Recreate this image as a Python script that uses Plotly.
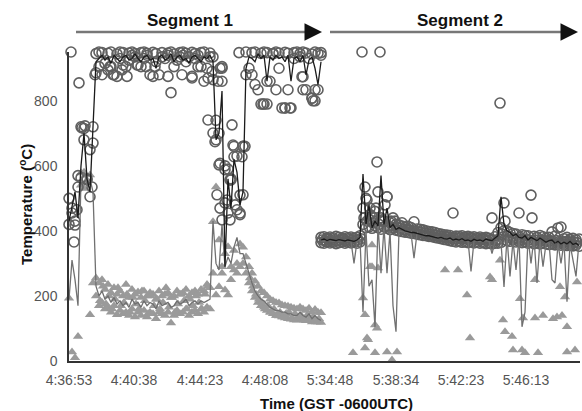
import plotly.graph_objects as go

# ---------------- data ----------------
# x = sample index along the recording (tick labels give clock time)
tick_vals = [0, 65, 131, 196, 261, 327, 392, 457]
tick_text = ["4:36:53", "4:40:38", "4:44:23", "4:48:08", "5:34:48", "5:38:34", "5:42:23", "5:46:13"]

seg1_idx = list(range(0, 253, 3))
seg2_idx = list(range(252, 511, 3))
seg2_idx_mid = list(range(253, 511, 3))
seg1_idx_mid = list(range(31, 142, 3)) + list(range(181, 253, 3))

# Segment 1 averaged temperatures
hot1_avg = [430, 470, 520, 440, 600, 700, 560, 520, 700, 920,
            930, 940, 925, 935, 915, 940, 930, 920, 935, 940,
            925, 930, 945, 930, 920, 935, 940, 925, 930, 900,
            935, 940, 925, 930, 945, 920, 935, 940, 925, 930,
            915, 935, 940, 930, 920, 935, 930, 940,
            920, 680, 700, 830, 290, 560, 470, 620, 580, 480, 520, 900,
            935, 930, 920, 945, 930, 940, 860, 935, 925, 940,
            930, 935, 920, 940, 860, 930, 935, 920, 940, 880,
            925, 935, 900, 850, 920]
cold1_avg = [190, 310, 250, 170, 560, 580, 540, 560, 520, 230,
             200, 215, 190, 200, 180, 195, 175, 185, 170, 180,
             165, 190, 175, 180, 165, 185, 170, 180, 175, 160,
             185, 170, 175, 180, 165, 170, 185, 175, 180, 190,
             170, 180, 185, 175, 185, 180, 185, 190,
             430, 300, 280, 420, 290, 320, 300, 350, 380, 330, 330, 300,
             265, 240, 215, 200, 190, 185, 175, 165, 160, 155,
             155, 150, 150, 145, 145, 140, 140, 150, 140, 135,
             145, 130, 140, 130, 125]

# Segment 1 individual readings (circles = hot sensors)
hot1_a = [500, 455, 430, 570, 720, 715, 560, 505, 720,
          945, 950, 948, 952, 946, 950, 955, 944, 950, 948,
          952, 947, 950, 945, 953, 948, 950, 946, 952, 949,
          945, 951, 948, 953, 947, 950, 944, 952, 948, 950,
          946, 953, 949, 945, 951, 948, 950, 952, 947,
          935, 740, 700, 860, 600, 590, 560, 660, 630, 510, 660, 950,
          952, 948, 950, 955, 946, 950, 948, 953, 945, 950,
          947, 952, 949, 946, 951, 948, 953, 945, 950, 947,
          952, 944, 950, 946, 948]
hot1_b = [420, 470, 418, 535, 563, 680, 557, 650, 670,
          886, 905, 880, 915, 895, 905, 880, 875, 930, 910,
          905, 925, 940, 935, 910, 905, 930, 940, 880, 875,
          920, 880, 935, 930, 940, 825, 905, 925, 935, 940,
          920, 935, 870, 930, 940, 905, 860, 900, 935,
          865, 680, 603, 900, 486, 455, 557, 628, 465, 455, 511, 880,
          900, 880, 850, 834, 790, 790, 860, 860, 945, 834,
          900, 778, 778, 834, 778, 930, 950, 935, 874, 834,
          930, 808, 800, 834, 940]
hot1_x_extra = [2, 10, 26, 5, 8, 13, 16, 23, 139, 144, 148, 156, 161, 163, 174, 173,
                151, 158, 166, 171, 153, 161, 146, 151, 164, 176, 143, 149, 153, 176,
                170, 44, 41, 53, 58, 68, 77, 86, 99, 113, 123, 129, 139, 151,
                194, 198, 216, 221, 233, 243, 244, 246, 234]
hot1_y_extra = [950, 855, 880, 366, 465, 717, 723, 535, 741, 701, 511, 588, 557, 726, 660, 628,
                470, 495, 480, 450, 434, 434, 674, 608, 664, 660, 890, 860, 905, 955,
                948, 880, 905, 895, 875, 910, 905, 905, 875, 880, 875, 905, 870, 900,
                790, 790, 778, 778, 874, 808, 800, 834, 834]

# Segment 1 individual readings (triangles = cool sensors)
cold1_a = [None, None, None, None, 578, 580, 555, 572, 240, 255,
           240, 250, 220, 235, 210, 225, 205, 215, 200, 235,
           195, 220, 205, 212, 195, 215, 200, 210, 205, 190,
           215, 200, 205, 210, 195, 200, 215, 205, 210, 220,
           200, 210, 215, 205, 220, 215, 235, 225,
           428, 535, 372, 290, 330, 351, 290, 340, 300, 360, 350, 320,
           290, 270, 245, 230, 215, 210, 200, 190, 185, 180,
           178, 172, 170, 168, 165, 162, 160, 165, 160, 155,
           162, 150, 158, 150, 148]
cold1_b = [193, 28, 10, 75, 540, 530, None, 142, None, 200,
           170, 180, 160, 165, 150, 170, 142, 155, 145, 150,
           140, 160, 135, 150, 140, 155, 135, 150, 145, 130,
           150, 145, 140, 150, 117, 140, 155, 145, 150, 160,
           140, 150, 155, 145, 160, 150, 165, 160,
           270, 203, 228, 270, 218, 203, 250, 280, 270, 290, 300, 270,
           240, 215, 195, 180, 170, 165, 155, 150, 145, 140,
           138, 135, 132, 130, 128, 126, 125, 130, 128, 124,
           126, 120, 125, 120, 118]
cold1_c = [185, 230, 175, 200, 160, 190, 225, 170, 180, 205,
           150, 195, 175, 160, 215, 185, 145, 200, 170, 190,
           160, 180, 225, 165, 195, 150, 175, 205, 185, 160,
           190, 170, 200, 180, 160, 205, 230,
           255, 230, 205, 190, 180, 160, 170, 150, 160, 140,
           150, 135, 145, 150, 130, 145, 135, 140, 125, 140,
           130, 135, 120, 130]

# Segment 2 averaged temperatures
hot2_avg = [372, 375, 370, 374, 372, 370, 373, 371, 369, 372,
            370, 368, 372, 380, 575, 420, 480, 410, 430, 415,
            570, 420, 470, 410, 420, 405, 410, 405, 400, 398,
            395, 395, 392, 390, 388, 385, 385, 383, 380, 378,
            380, 376, 375, 378, 372, 375, 372, 376, 370, 372,
            368, 374, 370, 372, 368, 375, 372, 370, 378, 385,
            505, 420, 400, 395, 385, 390, 380, 378, 385, 372,
            380, 375, 370, 378, 372, 365, 370, 372, 362, 368,
            360, 365, 360, 368, 358, 362, 355]
cold2_avg = [370, 368, 372, 370, 368, 371, 369, 370, 367, 370,
             368, 300, 368, 375, 150, 400, 230, 250, 105, 420,
             270, 410, 270, 400, 170, 90, 400, 398, 396, 395,
             393, 316, 392, 390, 388, 386, 385, 383, 380, 379,
             378, 376, 375, 373, 372, 374, 372, 373, 370, 371,
             275, 370, 369, 368, 370, 369, 368, 330, 367, 368,
             366, 228, 380, 260, 370, 280, 380, 105, 150, 380,
             300, 380, 240, 370, 290, 360, 365, 250, 240, 360,
             300, 365, 182, 360, 310, 260, 365]

hot2_a = [380, 382, 378, 381, 379, 383, 380, 378, 382, 379,
          381, 377, 380, 385,
          470, 500, 435, 445, 460, 520, 440, 430, 505, 425, 440, 420, 418,
          415, 412, 414, 410, 428, 406, 405, 403, 400, 398, 397, 395, 392, 390, 388, 387,
          386, 455, 384, 383, 385, 381, 383, 380, 382, 379, 381, 378, 380, 377, 440, 382,
          395, 410, 486, 400, 395, 392, 390, 455, 388, 386, 385, 510, 383, 380, 386, 382,
          378, 380, 397, 384, 409, 412, 376, 380, 374, 377, 373, 375]
hot2_b = [364, 362, 366, 363, 365, 361, 364, 366, 362, 365,
          363, 367, 362, 366,
          420, 410, 412, 408, 415, 410, 405, 412, 408, 404, 410, 402, 400,
          398, 396, 395, 393, 392, 390, 388, 386, 385, 383, 382, 380, 378, 376, 374, 372,
          370, 368, 366, 368, 365, 366, 364, 367, 363, 365, 362, 364, 361, 363, 360, 362,
          362, 365, 400, 370, 368, 372, 366, 368, 364, 366, 362, 365, 361, 363, 360, 362,
          360, 358, 361, 357, 359, 356, 358, 355, 357, 354, 356, 353]
hot2_c = [372, 370, 374, 371, 373, 369, 372, 374, 370, 373, 371, 368, 372, 376,
          440, 430, 450, 425, 470, 420, 430, 480, 415, 430, 410, 412, 408,
          405, 403, 404, 400, 398, 397, 395, 393, 391, 389, 388, 386, 384, 382, 381, 380,
          378, 377, 376, 378, 375, 376, 374, 377, 373, 375, 372, 374, 371, 373, 372, 371,
          375, 390, 430, 385, 380, 378, 376, 380, 374, 375, 372, 440, 371, 372, 370, 371,
          369, 370, 368, 371, 367, 369, 366, 368, 365, 366, 364]
hot2_x_extra = [293, 311, 308, 318, 431, 296, 298, 301, 305, 313, 320, 326, 333]
hot2_y_extra = [950, 950, 612, 505, 793, 535, 495, 470, 440, 434, 412, 430, 425]

cold2_x = [284, 294, 296, 299, 296, 303, 303, 309, 306, 306, 318, 328, 323, 308, 298,
           301, 376, 389, 398, 401, 421, 423, 431, 434, 436, 443, 444, 453, 456, 469,
           451, 454, 466, 474, 484, 488, 493, 496, 491, 498, 498, 506, 508, 466]
cold2_y = [25, 194, 142, 65, 40, 357, 290, 286, 111, 25, 28, 28, 3, 101, 71,
           290, 280, 280, 203, 71, 258, 250, 310, 126, 90, 75, 34, 34, 25, 25,
           191, 132, 132, 140, 130, 135, 140, 197, 228, 105, 28, 34, 243, 250]

# ---------------- styles ----------------
CIRC = dict(symbol="circle-open", size=10, color="#5f5f5f", line=dict(width=1.6, color="#5f5f5f"))
TRI = dict(symbol="triangle-up", size=9, color="#9a9a9a", line=dict(width=0))
BLACK = dict(color="#1b1b1b", width=1.3)
GRAY = dict(color="#707070", width=1.3)

fig = go.Figure()

# triangles
for xs, ys in [(seg1_idx, cold1_a), (seg1_idx, cold1_b), (seg1_idx_mid, cold1_c), (cold2_x, cold2_y)]:
    fig.add_trace(go.Scatter(x=xs, y=ys, mode="markers", marker=TRI, showlegend=False,
                             cliponaxis=False, hoverinfo="skip"))
# circles
for xs, ys in [(seg1_idx, hot1_a), (seg1_idx, hot1_b), (hot1_x_extra, hot1_y_extra),
               (seg2_idx, hot2_a), (seg2_idx, hot2_b), (seg2_idx_mid, hot2_c),
               (hot2_x_extra, hot2_y_extra)]:
    fig.add_trace(go.Scatter(x=xs, y=ys, mode="markers", marker=CIRC, showlegend=False,
                             cliponaxis=False, hoverinfo="skip"))
# average lines
fig.add_trace(go.Scatter(x=seg1_idx, y=cold1_avg, mode="lines", line=GRAY, showlegend=False))
fig.add_trace(go.Scatter(x=seg2_idx, y=cold2_avg, mode="lines", line=GRAY, showlegend=False))
fig.add_trace(go.Scatter(x=seg1_idx, y=hot1_avg, mode="lines", line=BLACK, showlegend=False))
fig.add_trace(go.Scatter(x=seg2_idx, y=hot2_avg, mode="lines", line=BLACK, showlegend=False))

FONT = "Liberation Sans, Arial, sans-serif"

fig.update_layout(
    width=582, height=411,
    margin=dict(l=69, r=2, t=52, b=50),
    paper_bgcolor="white", plot_bgcolor="white",
    font=dict(family=FONT, size=14, color="#555555"),
    xaxis=dict(range=[0, 511], tickvals=tick_vals, ticktext=tick_text, showgrid=False,
               zeroline=False, showline=True, linecolor="#333333", linewidth=1.5,
               ticks="", ticklabelstandoff=5, automargin=False,
               tickfont=dict(size=14, color="#555555")),
    yaxis=dict(range=[0, 950], tickvals=[0, 200, 400, 600, 800], showgrid=False,
               zeroline=False, showline=True, linecolor="#333333", linewidth=1.5,
               ticks="", ticklabelstandoff=7, automargin=False,
               tickfont=dict(size=14, color="#555555")),
)

# axis titles
fig.add_annotation(text="<b>Time (GST -0600UTC)</b>", xref="paper", yref="paper",
                   x=(336 - 69) / 511, y=-(403 - 361) / 309, xanchor="center", yanchor="middle",
                   showarrow=False, font=dict(size=15, color="#111111", family=FONT))
fig.add_annotation(text="<b>Temperature (<sup>o</sup>C)</b>", xref="paper", yref="paper",
                   x=(25 - 69) / 511, y=(361 - 205) / 309, xanchor="center", yanchor="middle",
                   textangle=-90, showarrow=False,
                   font=dict(size=15, color="#111111", family=FONT))

# segment labels and arrows
seg_arrow_y = (361 - 32) / 309
seg_text_y = (361 - 21) / 309
for label, x_tail, x_head, x_text in [("Segment 1", 7, 253, 121), ("Segment 2", 261, 509, 391)]:
    fig.add_shape(type="line", xref="x", yref="paper", x0=x_tail, x1=x_head - 10,
                  y0=seg_arrow_y, y1=seg_arrow_y, line=dict(color="#777777", width=2.5))
    fig.add_annotation(x=x_head, y=seg_arrow_y, xref="x", yref="paper", ax=-14, ay=0,
                       axref="pixel", ayref="pixel", text="", showarrow=True,
                       arrowhead=2, arrowsize=1.4, arrowwidth=2.5, arrowcolor="#111111",
                       standoff=0)
    fig.add_annotation(text=f"<b>{label}</b>", x=x_text, y=seg_text_y, xref="x", yref="paper",
                       xanchor="center", yanchor="middle",
                       showarrow=False, font=dict(size=17, color="#111111", family=FONT))

fig.write_html("out.html", config={"displayModeBar": False},
               post_script="document.body.style.margin='0';")
